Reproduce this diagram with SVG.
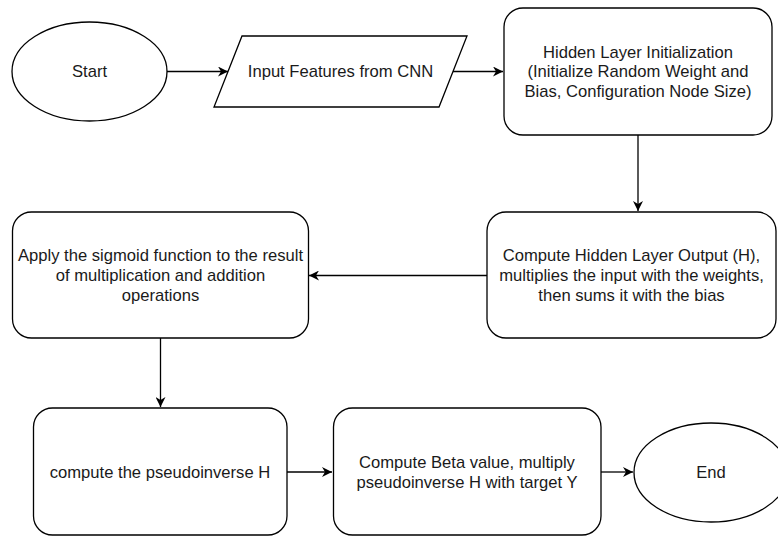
<svg xmlns="http://www.w3.org/2000/svg" width="778" height="536" viewBox="0 0 778 536">
<style>
.s{fill:#fff;stroke:#000;stroke-width:1.3}
.t{font-family:"Liberation Sans",Arial,sans-serif;font-size:16.6px;fill:#1a1a1a;text-anchor:middle;dominant-baseline:central}
.c{fill:none;stroke:#000;stroke-width:1.3}
</style>
<defs>
<marker id="a" markerWidth="12" markerHeight="10" refX="10" refY="5" orient="auto" markerUnits="userSpaceOnUse">
<path d="M0,0 L10,5 L0,10 L3,5 Z" fill="#000"/>
</marker>
</defs>
<rect width="778" height="536" fill="#fff"/>
<g id="connectors">
<line class="c" x1="167" y1="71.5" x2="228" y2="71.5" marker-end="url(#a)"/>
<line class="c" x1="453" y1="71.5" x2="503" y2="71.5" marker-end="url(#a)"/>
<line class="c" x1="638" y1="135" x2="638" y2="211" marker-end="url(#a)"/>
<line class="c" x1="487" y1="275.5" x2="309" y2="275.5" marker-end="url(#a)"/>
<line class="c" x1="160.5" y1="338" x2="160.5" y2="407" marker-end="url(#a)"/>
<line class="c" x1="287" y1="472" x2="332" y2="472" marker-end="url(#a)"/>
<line class="c" x1="601" y1="472" x2="633" y2="472" marker-end="url(#a)"/>
</g>
<g id="start">
<ellipse class="s" cx="89.5" cy="71.5" rx="77.5" ry="49.5"/>
<text class="t" x="89.5" y="71.5">Start</text>
</g>
<g id="input">
<polygon class="s" points="242,36 467,36 439,107 214,107"/>
<text class="t" x="340.5" y="71.5">Input Features from CNN</text>
</g>
<g id="init">
<rect class="s" x="504" y="8" width="268" height="127" rx="19"/>
<text class="t" x="638" y="52">Hidden Layer Initialization</text>
<text class="t" x="638" y="71.5">(Initialize Random Weight and</text>
<text class="t" x="638" y="91">Bias, Configuration Node Size)</text>
</g>
<g id="hidden">
<rect class="s" x="487" y="212" width="289" height="126" rx="19"/>
<text class="t" x="631.5" y="255.5">Compute Hidden Layer Output (H),</text>
<text class="t" x="631.5" y="275.5">multiplies the input with the weights,</text>
<text class="t" x="631.5" y="295.5">then sums it with the bias</text>
</g>
<g id="sigmoid">
<rect class="s" x="12.5" y="212" width="296" height="126" rx="19"/>
<text class="t" x="160.5" y="255.5">Apply the sigmoid function to the result</text>
<text class="t" x="160.5" y="275.5">of multiplication and addition</text>
<text class="t" x="160.5" y="295.5">operations</text>
</g>
<g id="pinv">
<rect class="s" x="33.5" y="408" width="253.5" height="127" rx="19"/>
<text class="t" x="160" y="472">compute the pseudoinverse H</text>
</g>
<g id="beta">
<rect class="s" x="333.5" y="408" width="267.5" height="127" rx="19"/>
<text class="t" x="467" y="462">Compute Beta value, multiply</text>
<text class="t" x="467" y="482">pseudoinverse H with target Y</text>
</g>
<g id="end">
<ellipse class="s" cx="711" cy="472.5" rx="77" ry="49.5"/>
<text class="t" x="711" y="472.5">End</text>
</g>
</svg>
